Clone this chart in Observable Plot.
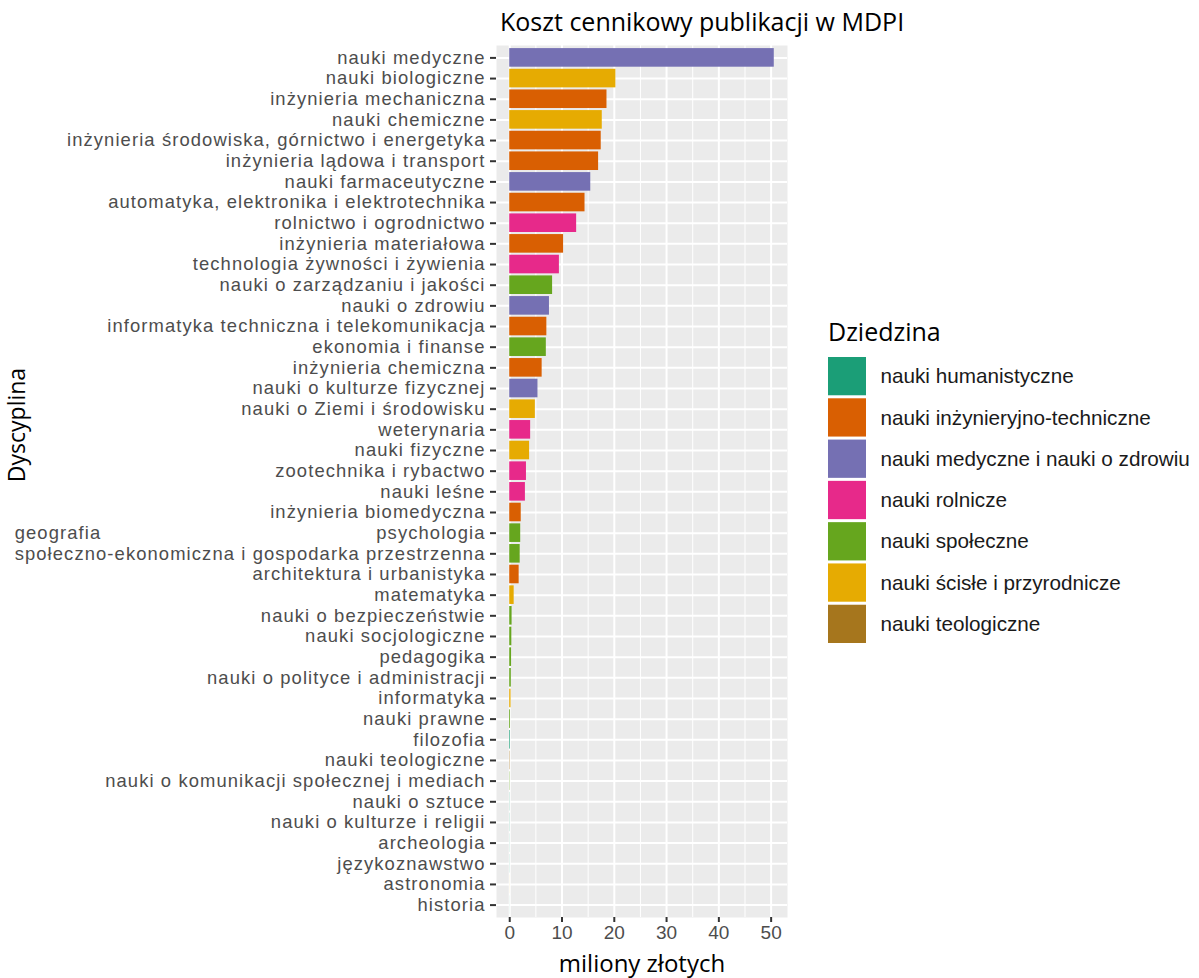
<!DOCTYPE html>
<html>
<head>
<meta charset="utf-8">
<script src="https://cdn.jsdelivr.net/npm/d3@7"></script>
<script src="https://cdn.jsdelivr.net/npm/@observablehq/plot@0.6"></script>
<style>
  html, body { margin: 0; padding: 0; background: #ffffff; }
  #wrap { position: relative; width: 1199px; height: 978px; overflow: hidden; font-family: "Liberation Sans", Arial, sans-serif; }
  #chart { position: absolute; left: 0; top: 0; }
  #legend { position: absolute; left: 828px; top: 357px; }
  .ttl { position: absolute; font-family: "Open Sans", sans-serif; color: #000; line-height: 1; white-space: nowrap; }
  #title { left: 500px; top: 9px; font-size: 25px; }
  #xtitle { left: 442px; width: 400px; text-align: center; top: 951px; font-size: 24px; }
  #ytitle { left: 16px; top: 425px; font-size: 23px; transform: translate(-50%, -50%) rotate(-90deg); }
  #ltitle { left: 828px; top: 319px; font-size: 25px; }
</style>
</head>
<body>
<div id="wrap">
  <div id="chart"></div>
  <div id="legend"></div>
  <div class="ttl" id="title">Koszt cennikowy publikacji w MDPI</div>
  <div class="ttl" id="xtitle">miliony złotych</div>
  <div class="ttl" id="ytitle">Dyscyplina</div>
  <div class="ttl" id="ltitle">Dziedzina</div>
</div>
<script>
// ---- data ----
const disciplines = [
  "nauki medyczne",
  "nauki biologiczne",
  "inżynieria mechaniczna",
  "nauki chemiczne",
  "inżynieria środowiska, górnictwo i energetyka",
  "inżynieria lądowa i transport",
  "nauki farmaceutyczne",
  "automatyka, elektronika i elektrotechnika",
  "rolnictwo i ogrodnictwo",
  "inżynieria materiałowa",
  "technologia żywności i żywienia",
  "nauki o zarządzaniu i jakości",
  "nauki o zdrowiu",
  "informatyka techniczna i telekomunikacja",
  "ekonomia i finanse",
  "inżynieria chemiczna",
  "nauki o kulturze fizycznej",
  "nauki o Ziemi i środowisku",
  "weterynaria",
  "nauki fizyczne",
  "zootechnika i rybactwo",
  "nauki leśne",
  "inżynieria biomedyczna",
  "psychologia",
  "geografia\nspołeczno-ekonomiczna i gospodarka przestrzenna",
  "architektura i urbanistyka",
  "matematyka",
  "nauki o bezpieczeństwie",
  "nauki socjologiczne",
  "pedagogika",
  "nauki o polityce i administracji",
  "informatyka",
  "nauki prawne",
  "filozofia",
  "nauki teologiczne",
  "nauki o komunikacji społecznej i mediach",
  "nauki o sztuce",
  "nauki o kulturze i religii",
  "archeologia",
  "językoznawstwo",
  "astronomia",
  "historia"
];
const costs = [
  50.6, 20.3, 18.6, 17.7, 17.5, 17.0, 15.5, 14.4, 12.8, 10.3,
  9.5, 8.2, 7.6, 7.1, 7.0, 6.2, 5.4, 4.9, 4.0, 3.8,
  3.2, 3.0, 2.2, 2.1, 2.0, 1.8, 0.85, 0.45, 0.4, 0.35,
  0.3, 0.25, 0.15, 0.12, 0.06, 0.05, 0.03, 0.03, 0.02, 0.02,
  0.01, 0.01
];
const H = "nauki humanistyczne";
const I = "nauki inżynieryjno-techniczne";
const M = "nauki medyczne i nauki o zdrowiu";
const R = "nauki rolnicze";
const S = "nauki społeczne";
const P = "nauki ścisłe i przyrodnicze";
const T = "nauki teologiczne";
const fields = [
  M, P, I, P, I, I, M, I, R, I,
  R, S, M, I, S, I, M, P, R, P,
  R, R, I, S, S, I, P, S, S, S,
  S, P, S, H, T, S, H, H, H, H,
  P, H
];
const fieldNames = [H, I, M, R, S, P, T];
const fieldColors = ["#1B9E77", "#D95F02", "#7570B3", "#E7298A", "#66A61E", "#E6AB02", "#A6761D"];
const majorTicks = [0, 10, 20, 30, 40, 50];
const minorTicks = [5, 15, 25, 35, 45];

const rows = disciplines.map((d, i) => ({name: d, value: costs[i], field: fields[i]}));
const xmax = d3.max(costs);

const chart = Plot.plot({
  width: 800,
  height: 978,
  marginLeft: 496,
  marginRight: 13,
  marginTop: 45,
  marginBottom: 61,
  style: {fontFamily: "'Liberation Sans', Arial, sans-serif", background: "transparent", overflow: "visible"},
  x: {domain: [-0.05 * xmax, 1.05 * xmax]},
  y: {domain: disciplines, paddingInner: 0.1, paddingOuter: 0.15, align: 0.5, round: false},
  color: {domain: fieldNames, range: fieldColors},
  marks: [
    Plot.frame({fill: "#EBEBEB", stroke: "none"}),
    Plot.ruleX(minorTicks, {stroke: "#ffffff", strokeWidth: 1}),
    Plot.ruleX(majorTicks, {stroke: "#ffffff", strokeWidth: 2}),
    Plot.ruleY(disciplines, {stroke: "#ffffff", strokeWidth: 2}),
    Plot.barX(rows, {y: "name", x: "value", fill: "field"}),
    Plot.axisX({ticks: majorTicks, tickSize: 5, tickPadding: 3, stroke: "#333333", strokeWidth: 2, fill: "#4D4D4D", fontSize: 19, label: null}),
    Plot.axisY({tickSize: 6, tickPadding: 5, stroke: "#333333", strokeWidth: 2, fill: "#4D4D4D", fontSize: 18.4, label: null,
      tickFormat: d => d.split("\n").pop()})
  ]
});
document.getElementById("chart").appendChild(chart);

// widen the y tick labels slightly (tight rows keep the font size down)
chart.querySelectorAll('g[aria-label="y-axis tick label"]').forEach(g => g.style.letterSpacing = "1.1px");

// multi-line label: put the leading line(s) one band above, left-aligned with the last line
const yScale = chart.scale("y");
chart.querySelectorAll('g[aria-label="y-axis tick label"] text').forEach(t => {
  const full = disciplines.find(d => d.includes("\n") && d.split("\n").pop() === t.textContent);
  if (!full) return;
  const lines = full.split("\n");
  const len = t.getComputedTextLength();
  lines.slice(0, -1).reverse().forEach((line, k) => {
    const g = document.createElementNS("http://www.w3.org/2000/svg", "g");
    g.setAttribute("transform", `translate(${-len},${-(k + 1) * yScale.step})`);
    const c = t.cloneNode(false);
    c.textContent = line;
    c.setAttribute("text-anchor", "start");
    g.appendChild(c);
    t.parentNode.appendChild(g);
  });
});

// legend
const legend = Plot.plot({
  width: 371,
  height: 286,
  margin: 0,
  style: {fontFamily: "'Liberation Sans', Arial, sans-serif", background: "transparent", overflow: "visible"},
  x: {domain: ["key"], range: [0, 38], padding: 0, axis: null},
  y: {domain: fieldNames, paddingInner: 0.073, paddingOuter: 0, axis: null, round: false},
  color: {domain: fieldNames, range: fieldColors},
  marks: [
    Plot.cell(fieldNames, {x: () => "key", y: d => d, fill: d => d}),
    Plot.text(fieldNames, {x: () => "key", y: d => d, text: d => d, dx: 33, textAnchor: "start", fontSize: 20.7, fill: "#1A1A1A"})
  ]
});
document.getElementById("legend").appendChild(legend);
</script>
</body>
</html>
